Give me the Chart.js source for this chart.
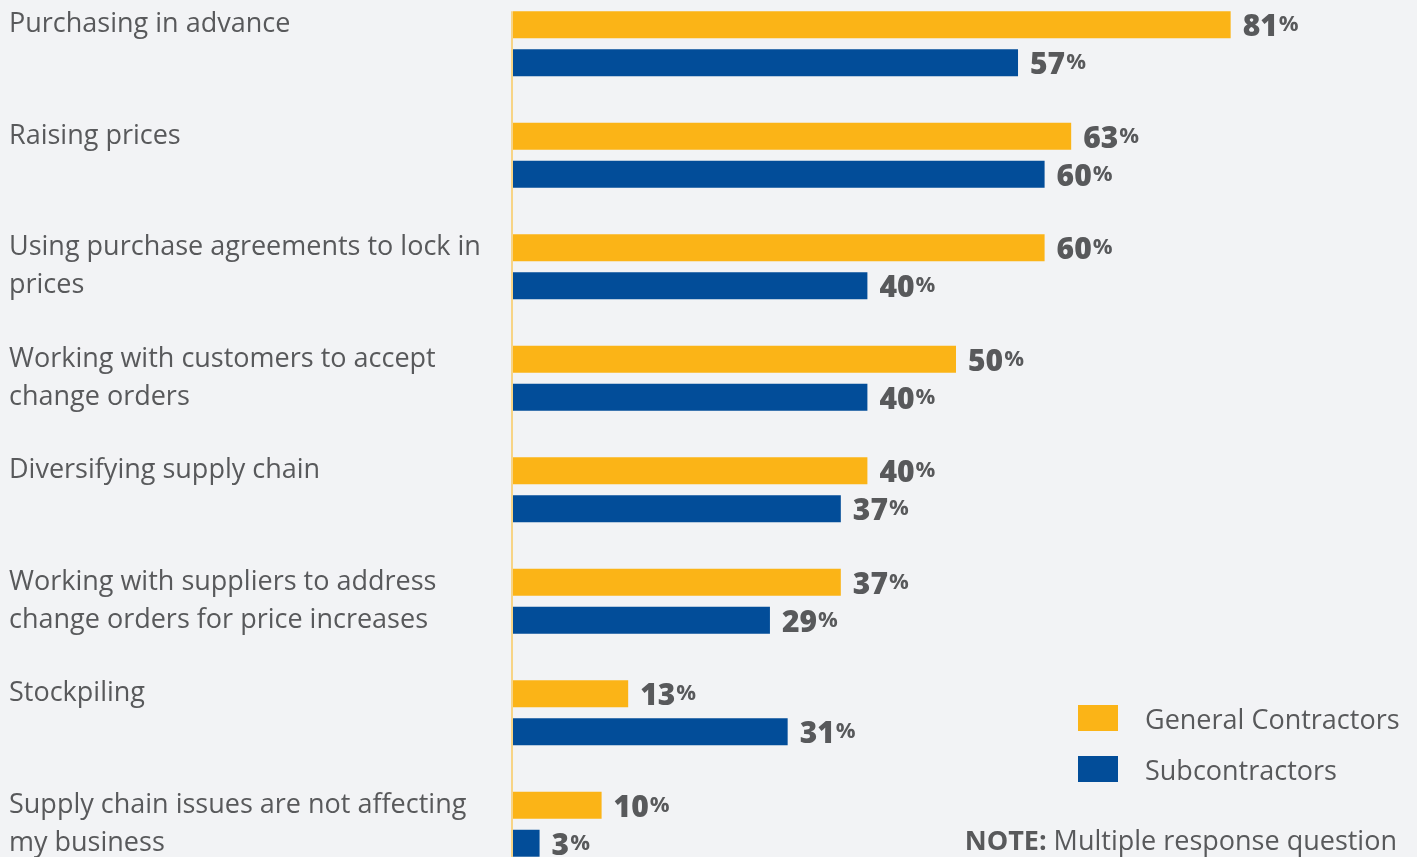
<!DOCTYPE html>
<html>
<head>
<meta charset="utf-8">
<script src="https://cdn.jsdelivr.net/npm/chart.js@4/dist/chart.umd.min.js"></script>
<style>
  html, body { margin: 0; padding: 0; background: #f2f3f5; overflow: hidden; }
  body { width: 1417px; height: 857px; position: relative; font-family: "Open Sans", sans-serif; color: #58595b; }
  #wrap { position: absolute; left: 0; top: -50px; width: 1417px; height: 968px; }
  #legend { position: absolute; left: 1078px; top: 700px; }
  .item { display: flex; align-items: center; height: 36px; margin-bottom: 15px; font-size: 27px; }
  .swatch { width: 40px; height: 26px; margin-right: 27px; }
  #note { position: absolute; right: 20px; top: 821px; font-size: 27px; white-space: nowrap; }
  #note b { font-weight: 700; }
</style>
</head>
<body>
<div id="wrap"><canvas id="chart"></canvas></div>
<div id="legend"></div>
<div id="note"><b>NOTE:</b> Multiple response question</div>
<script>
// Response categories (multi-line labels wrap as in the layout; single-line ones get an empty second line
// so the text sits level with the first bar of each pair)
const categories = [
  ["Purchasing in advance", ""],
  ["Raising prices", ""],
  ["Using purchase agreements to lock in", "prices"],
  ["Working with customers to accept", "change orders"],
  ["Diversifying supply chain", ""],
  ["Working with suppliers to address", "change orders for price increases"],
  ["Stockpiling", ""],
  ["Supply chain issues are not affecting", "my business"]
];
const seriesNames = ["General Contractors", "Subcontractors"];
const generalContractors = [81, 63, 60, 50, 40, 37, 13, 10];
const subcontractors = [57, 60, 40, 40, 37, 29, 31, 3];
const seriesColors = ["#fbb417", "#024d99"];

const textColor = "#58595b";
const axisLineColor = "#f7d486";

// Vertical baseline at zero, from the top of the first bar down past the last row
const baselinePlugin = {
  id: "baseline",
  beforeDatasetsDraw(chart) {
    const ctx = chart.ctx;
    const x = chart.scales.x.getPixelForValue(0) - 1;
    const first = chart.getDatasetMeta(0).data[0];
    const top = first.y - first.height / 2;
    ctx.save();
    ctx.strokeStyle = axisLineColor;
    ctx.lineWidth = 2;
    ctx.beginPath();
    ctx.moveTo(x, top);
    ctx.lineTo(x, chart.height);
    ctx.stroke();
    ctx.restore();
  }
};

// Value labels: bold number followed by a smaller percent sign
const valueLabelPlugin = {
  id: "valueLabels",
  afterDatasetsDraw(chart) {
    const ctx = chart.ctx;
    ctx.save();
    ctx.fillStyle = textColor;
    ctx.textBaseline = "alphabetic";
    ctx.textAlign = "left";
    chart.data.datasets.forEach((ds, di) => {
      const meta = chart.getDatasetMeta(di);
      meta.data.forEach((bar, i) => {
        const num = String(ds.data[i]);
        const x = bar.x + 12;
        const y = bar.y + 11.5;
        ctx.font = "800 30px 'Open Sans'";
        ctx.fillText(num, x, y);
        const w = ctx.measureText(num).width;
        ctx.font = "700 22px 'Open Sans'";
        ctx.fillText("%", x + w + 1, y - 5);
      });
    });
    ctx.restore();
  }
};

const chart = new Chart(document.getElementById("chart"), {
  type: "bar",
  data: {
    labels: categories,
    datasets: [
      { label: seriesNames[0], data: generalContractors, backgroundColor: seriesColors[0] },
      { label: seriesNames[1], data: subcontractors, backgroundColor: seriesColors[1] }
    ]
  },
  options: {
    indexAxis: "y",
    responsive: true,
    maintainAspectRatio: false,
    animation: false,
    layout: { padding: { left: 9, right: 18, top: 0, bottom: 0 } },
    datasets: { bar: { categoryPercentage: 0.681, barPercentage: 0.71 } },
    plugins: { legend: { display: false }, tooltip: { enabled: false } },
    scales: {
      x: { display: false, min: 0, max: 100 },
      y: {
        grid: { display: false },
        border: { display: false },
        afterFit(scale) { scale.width = 504; },
        ticks: {
          crossAlign: "far",
          color: textColor,
          padding: 0,
          font: { family: "'Open Sans'", size: 27, lineHeight: "38px" }
        }
      }
    }
  },
  plugins: [baselinePlugin, valueLabelPlugin]
});

// Legend built from the dataset names and colours
const legend = document.getElementById("legend");
chart.data.datasets.forEach(ds => {
  const item = document.createElement("div");
  item.className = "item";
  const sw = document.createElement("div");
  sw.className = "swatch";
  sw.style.background = ds.backgroundColor;
  const label = document.createElement("span");
  label.textContent = ds.label;
  item.appendChild(sw);
  item.appendChild(label);
  legend.appendChild(item);
});
</script>
</body>
</html>
